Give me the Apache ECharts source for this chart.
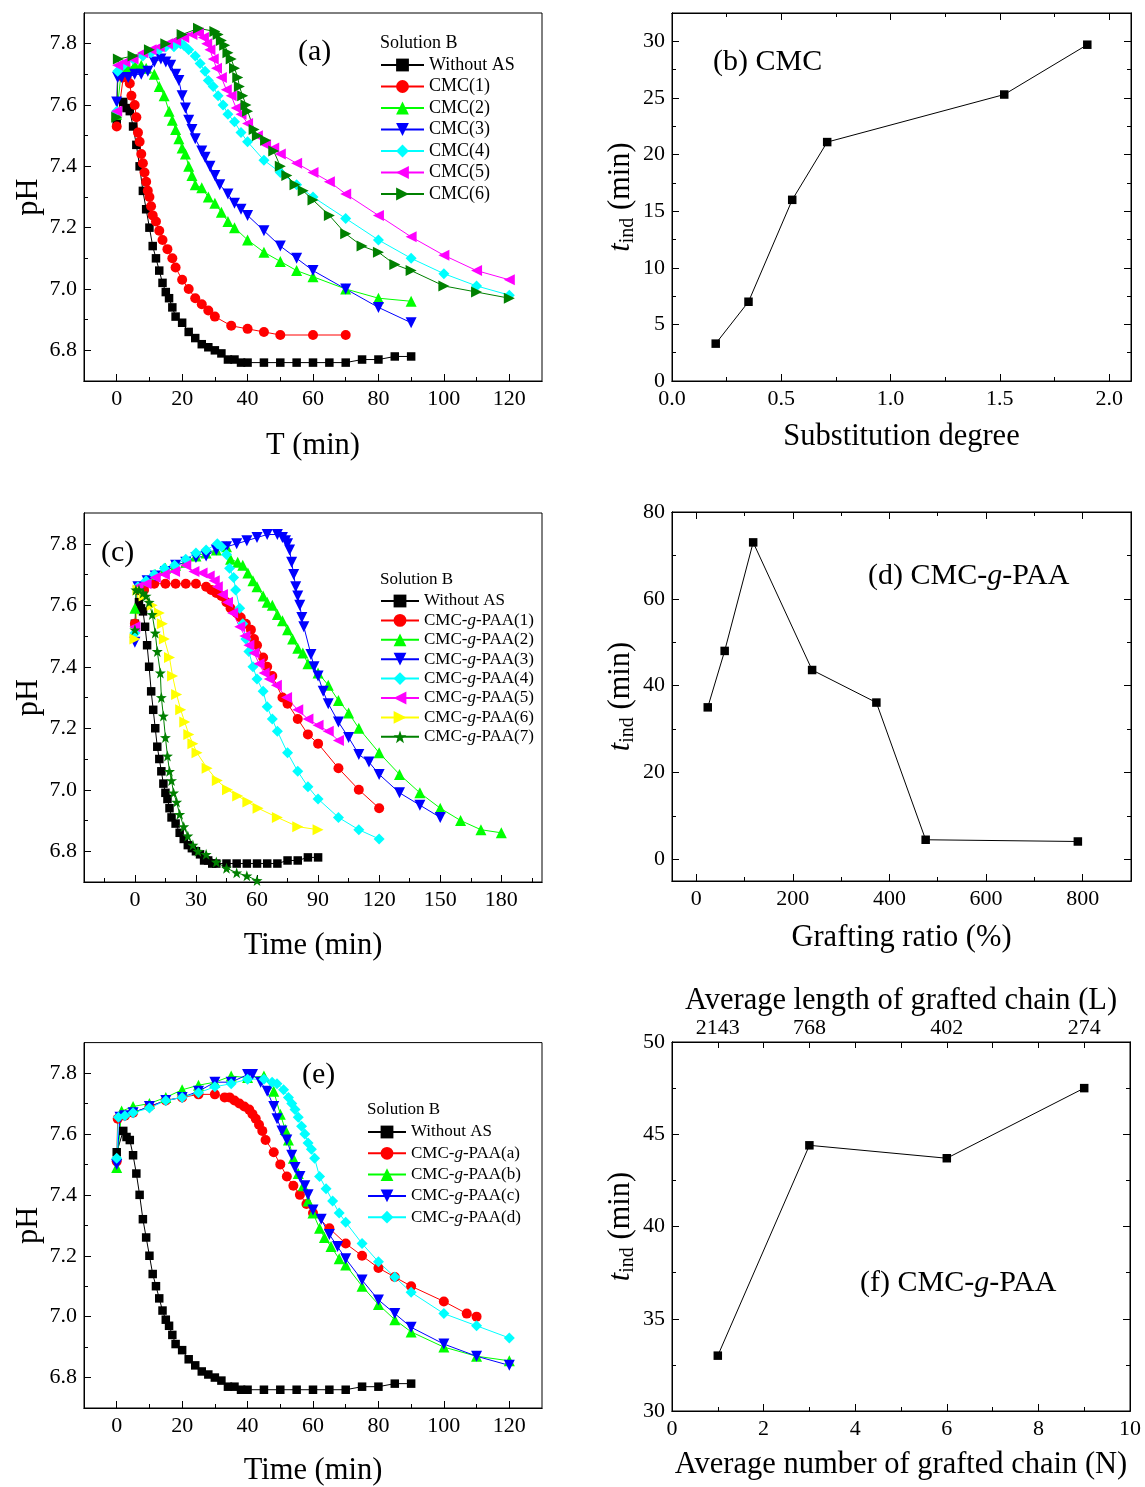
<!DOCTYPE html>
<html><head><meta charset="utf-8">
<script src="https://cdn.jsdelivr.net/npm/echarts@6/dist/echarts.min.js"></script>
<style>html,body{margin:0;padding:0;background:#fff}#c{width:1145px;height:1487px}</style>
</head><body><div id="c"></div>
<script>
// ---------- DATA ----------
// Without AS (same curve in panels a, c, e)
const noAS_t  = [0,2,3,4,5,6,7,8,9,10,11,12,13,14,15,16,17,18,20,22,24,26,28,30,32,34,36,38,40,45,50,55,60,65,70,75,80,85,90];
const noAS_pH = [7.54,7.61,7.59,7.58,7.53,7.47,7.40,7.32,7.26,7.20,7.14,7.10,7.06,7.02,6.99,6.97,6.94,6.91,6.89,6.86,6.84,6.82,6.81,6.80,6.79,6.77,6.77,6.76,6.76,6.76,6.76,6.76,6.76,6.76,6.76,6.77,6.77,6.78,6.78];
// panel (a)
const cmc1_t  = [0,2,3,4,4.5,5.5,6,6.5,7,7.5,8,8.5,9,9.5,10,10.5,11,12,13,14,15.5,17,18,20,22,24,26,28,30,35,40,45,50,60,70];
const cmc1_pH = [7.53,7.69,7.69,7.67,7.63,7.60,7.56,7.51,7.48,7.44,7.41,7.38,7.35,7.32,7.30,7.27,7.24,7.22,7.19,7.16,7.13,7.10,7.07,7.03,7.00,6.97,6.95,6.93,6.91,6.88,6.87,6.86,6.85,6.85,6.85];
const cmc2_t  = [0,1.5,3.5,5.5,7.5,9,11.5,13,14.5,16,17,18,19,20,21,22,23,24,26,28,30,32,34,36,40,45,50,55,60,70,80,90];
const cmc2_pH = [7.57,7.72,7.72,7.73,7.73,7.72,7.70,7.66,7.63,7.58,7.55,7.52,7.49,7.46,7.44,7.40,7.37,7.34,7.33,7.30,7.28,7.25,7.22,7.20,7.16,7.12,7.09,7.06,7.04,7.00,6.97,6.96];
const cmc3_t  = [0,0.3,1.5,3.5,5.5,7.5,9.5,11.5,13.5,15,16.5,18,19,20,21,22,23,24,26,27,28.5,30,31.5,34,36,38,40,45,50,55,60,70,80,90];
const cmc3_pH = [7.61,7.69,7.69,7.69,7.70,7.70,7.71,7.74,7.75,7.74,7.73,7.70,7.68,7.63,7.59,7.55,7.52,7.49,7.45,7.43,7.40,7.37,7.34,7.31,7.28,7.26,7.24,7.19,7.14,7.10,7.06,7.00,6.94,6.89];
const cmc4_t  = [0,0.3,2,5,8,10.5,13,15,17.5,19.5,20.5,22,24,25.5,27,28,29.5,31,32.5,34,36,38,40,45,50,55,60,70,80,90,100,110,120];
const cmc4_pH = [7.58,7.71,7.73,7.75,7.76,7.77,7.78,7.79,7.79,7.80,7.795,7.78,7.76,7.735,7.71,7.68,7.66,7.63,7.60,7.57,7.545,7.51,7.48,7.42,7.38,7.34,7.30,7.23,7.16,7.10,7.05,7.01,6.98];
const cmc5_t  = [0,0.3,2.5,5,8,10.5,13,15.5,18,20.5,23,25,26.5,27.5,28.5,29.5,30.5,32,33.5,35,36.5,38,40,43,45.5,48,50,55,60,65,70,80,90,100,110,120];
const cmc5_pH = [7.58,7.73,7.74,7.75,7.77,7.78,7.79,7.80,7.81,7.82,7.83,7.835,7.82,7.80,7.78,7.75,7.72,7.69,7.65,7.63,7.59,7.57,7.54,7.50,7.47,7.46,7.44,7.41,7.38,7.35,7.31,7.24,7.17,7.11,7.06,7.03];
const cmc6_t  = [0,0.5,5,10,15,20,25,30,31,32,33,34,35,36,37,37.5,38.5,39.5,40,42,43,45.5,48,50,52,54.5,57,60,65,70,75,80,85,90,100,110,120];
const cmc6_pH = [7.56,7.75,7.76,7.78,7.80,7.83,7.85,7.84,7.83,7.81,7.795,7.77,7.75,7.72,7.69,7.66,7.63,7.60,7.58,7.52,7.50,7.485,7.45,7.40,7.37,7.34,7.32,7.29,7.24,7.18,7.14,7.12,7.08,7.06,7.01,6.99,6.97];
// panel (b)
const subDeg = [0.2,0.35,0.55,0.71,1.52,1.9];
const tindB  = [3.3,7.0,16.0,21.1,25.3,29.7];
// panel (c)
const p1_t  = [0,1.5,4.5,9.5,15,20,25,30,35,37.5,40,42.5,45,47,50,52,54.5,57,58.5,60,63,65,67.5,72.5,75,80,85,90,100,110,120];
const p1_pH = [7.54,7.65,7.65,7.67,7.67,7.67,7.67,7.67,7.66,7.65,7.64,7.63,7.61,7.59,7.575,7.56,7.54,7.52,7.49,7.47,7.43,7.40,7.37,7.30,7.28,7.23,7.18,7.15,7.07,7.00,6.94];
const p2_t  = [0,1.5,5.5,10,15,20,25,30,35,40,45,47,50.5,53,55.5,58,60,63,65,67.5,70,72.5,75,77.5,80,82.5,85,90,95,100,105,110,120,130,140,150,160,170,180];
const p2_pH = [7.59,7.66,7.68,7.70,7.72,7.73,7.74,7.76,7.77,7.78,7.79,7.75,7.74,7.73,7.705,7.68,7.66,7.63,7.61,7.60,7.57,7.55,7.52,7.49,7.46,7.445,7.41,7.38,7.34,7.29,7.25,7.20,7.12,7.05,6.99,6.94,6.90,6.87,6.86];
const p3_t  = [0,1.5,6,10,15,20,25,30,35,40,45,50,55,60,65,70,72.5,74,75,76,77,78,79,80,81,82,83,86.5,88,90,92.5,95,100,105,110,115,120,130,140,150];
const p3_pH = [7.48,7.66,7.68,7.695,7.71,7.73,7.74,7.755,7.76,7.78,7.79,7.80,7.81,7.82,7.83,7.83,7.82,7.81,7.80,7.78,7.74,7.70,7.66,7.63,7.60,7.56,7.53,7.44,7.40,7.37,7.32,7.28,7.22,7.17,7.115,7.09,7.05,6.99,6.95,6.91];
const p4_t  = [0,1.5,5.5,9.5,14.5,19.5,25,30,35,40.5,42.5,45,46.5,48.5,49.5,51.5,53,54.5,56,58,60,63,65,67.5,70,75,80,85,90,100,110,120];
const p4_pH = [7.51,7.66,7.68,7.70,7.72,7.73,7.75,7.77,7.78,7.80,7.79,7.765,7.72,7.69,7.65,7.59,7.54,7.49,7.45,7.40,7.36,7.32,7.27,7.23,7.19,7.12,7.06,7.01,6.97,6.91,6.87,6.84];
const p5_t  = [0,1.5,5.5,10,14.5,19.5,25,29,33,36.5,39,40.5,43,45.5,48,51.5,54,56,58.5,61,63.5,66,69.5,74.5,80,85,90,95,100];
const p5_pH = [7.53,7.66,7.67,7.69,7.70,7.71,7.73,7.71,7.705,7.695,7.68,7.66,7.635,7.61,7.575,7.53,7.50,7.47,7.445,7.41,7.38,7.36,7.34,7.30,7.26,7.23,7.21,7.19,7.16];
const p6_t  = [0,1.5,4.5,8.5,12,13.5,14.5,17,18.5,20.5,22.5,24.5,26.5,28.5,30.5,35.5,40.5,45.5,50.5,55.5,60.5,70,80,90];
const p6_pH = [7.49,7.65,7.63,7.60,7.575,7.54,7.49,7.43,7.37,7.31,7.26,7.22,7.18,7.15,7.12,7.07,7.03,7.00,6.98,6.96,6.94,6.91,6.88,6.87];
const p7_t  = [0,0.5,2,4,5.5,7,8.5,10,11,12.5,13,14,15,16,17,18,19,20.5,22,24,26,28.5,31,35,40,45,50,55,60];
const p7_pH = [7.52,7.65,7.65,7.64,7.63,7.61,7.57,7.51,7.45,7.38,7.30,7.24,7.17,7.11,7.06,7.03,6.99,6.96,6.92,6.88,6.85,6.82,6.80,6.79,6.765,6.745,6.73,6.72,6.705];
// panel (d)
const graftRatio = [24,59,118,240,373,475,790];
const tindD      = [35,48,73,43.6,36.1,4.5,4.1];
// panel (e)
const ea_t  = [0,0.3,2.5,5,10,15,20,25,30,33,34.5,36,37.5,39,40.5,41.5,42.5,43.5,44.5,45.5,48,50,52,54,56,58,60,65,70,75,80,85,90,100,107,110];
const ea_pH = [7.51,7.65,7.66,7.67,7.69,7.71,7.72,7.73,7.73,7.72,7.72,7.71,7.70,7.69,7.68,7.665,7.65,7.63,7.61,7.58,7.54,7.50,7.46,7.43,7.40,7.37,7.34,7.29,7.24,7.20,7.16,7.13,7.10,7.05,7.01,7.00];
const eb_t  = [0,1.5,5,10,15,20,25,30,35,40,45,48,50,51.5,52.5,54,55.5,57,58.5,60,62,63.5,65.5,68,70,75,80,85,90,100,110,120];
const eb_pH = [7.49,7.675,7.69,7.70,7.72,7.745,7.76,7.77,7.79,7.785,7.79,7.74,7.665,7.615,7.58,7.52,7.47,7.43,7.38,7.34,7.29,7.26,7.23,7.19,7.17,7.10,7.04,6.99,6.95,6.90,6.87,6.855];
const ec_t  = [0,1,2.5,5,10,15,20,25,30,35,40,41.5,44,46,48,49,50.5,52,53.5,54.5,56,57.5,58.5,60,62.5,65,67.5,70,75,80,85,90,100,110,120];
const ec_pH = [7.50,7.655,7.66,7.67,7.69,7.71,7.72,7.74,7.77,7.77,7.795,7.795,7.77,7.74,7.69,7.65,7.61,7.58,7.53,7.49,7.46,7.43,7.40,7.35,7.32,7.27,7.23,7.19,7.12,7.055,7.01,6.965,6.91,6.87,6.84];
const ed_t  = [0,0.5,2.5,5,10,15,20,25,30,35,40,45,47.5,49,51,52.5,53.5,54.5,55.5,56.5,57.5,58.5,59.5,60.5,62,64,66,68,70,75,80,85,90,100,110,120];
const ed_pH = [7.52,7.655,7.66,7.67,7.685,7.71,7.72,7.735,7.755,7.765,7.78,7.78,7.77,7.765,7.745,7.72,7.70,7.68,7.655,7.625,7.60,7.57,7.55,7.52,7.46,7.42,7.38,7.34,7.31,7.24,7.18,7.13,7.08,7.01,6.97,6.93];
// panel (f)
const graftN = [1,3,6,9];
const tindF  = [33.0,44.4,43.7,47.5];
const fTopPos    = [1,3,6,9];
const fTopLabels = ['2143','768','402','274'];

// ---------- TICKS ----------
const pHMajor = [6.8,7.0,7.2,7.4,7.6,7.8];
const pHMinor = [6.9,7.1,7.3,7.5,7.7];
const tAMajor = [0,20,40,60,80,100,120];
const tAMinor = [10,30,50,70,90,110];
const tCMajor = [0,30,60,90,120,150,180];
const tCMinor = [-15,15,45,75,105,135,165,195];
const bXMajor = [0,0.5,1.0,1.5,2.0];
const bXMinor = [0.25,0.75,1.25,1.75];
const bYMajor = [0,5,10,15,20,25,30];
const bYMinor = [2.5,7.5,12.5,17.5,22.5,27.5];
const dXMajor = [0,200,400,600,800];
const dXMinor = [100,300,500,700];
const dYMajor = [0,20,40,60,80];
const dYMinor = [10,30,50,70];
const fXMajor = [0,2,4,6,8,10];
const fXMinor = [1,3,5,7,9];
const fTopTicks = [1,2,3,4,5,6,7,8,9];
const fYMajor = [30,35,40,45,50];
const fYMinor = [32.5,37.5,42.5,47.5];

// ---------- BUILD ----------
const F = "'Liberation Serif','Times New Roman',serif";
const TF = 30.5;   // axis title font size
const nameStyle = {fontFamily:F, fontSize:TF, color:'#000'};
const tindName = '{it|t}{sub|ind}{n| (min)}';
const tindStyle = {fontFamily:F, fontSize:TF, color:'#000', rich:{
  it:{fontFamily:F, fontSize:TF, fontStyle:'italic', color:'#000'},
  sub:{fontFamily:F, fontSize:20, color:'#000', padding:[14,0,0,0]},
  n:{fontFamily:F, fontSize:TF, color:'#000'}}};

const grids = [
  {left:84, top:13, width:458, height:368},
  {left:672, top:13, width:459, height:368},
  {left:84, top:513, width:458, height:369},
  {left:672, top:512, width:459, height:369},
  {left:84, top:1042.6, width:458, height:368.4},
  {left:672, top:1042, width:458, height:369}
].map(g => Object.assign({show:true, borderColor:'#000', borderWidth:1, backgroundColor:'transparent'}, g));

const xAxes = [], yAxes = [];
function ax(list, gi, pos, min, max, ticks, len, label, extra) {
  const a = {
    type:'value', gridIndex:gi, position:pos, min:min, max:max,
    axisLine:{show:true, onZero:false, lineStyle:{color:'#000', width:1}},
    axisTick:{show:true, inside:true, length:len, customValues:ticks, lineStyle:{color:'#000', width:1}},
    axisLabel: label ? Object.assign({show:true, fontFamily:F, fontSize:22, color:'#000', margin:7}, label) : {show:false},
    splitLine:{show:false}, minorTick:{show:false}, silent:true
  };
  Object.assign(a, extra || {});
  list.push(a);
  return list.length - 1;
}
const f1 = v => v.toFixed(1);
const idx = {};
// (a)
idx.ax = ax(xAxes,0,'bottom',-10,130,tAMajor,7,{customValues:tAMajor},{name:'T (min)',nameLocation:'middle',nameGap:49,nameTextStyle:nameStyle});
ax(xAxes,0,'bottom',-10,130,tAMinor,4,null);
idx.ay = ax(yAxes,0,'left',6.7,7.9,pHMajor,7,{customValues:pHMajor,formatter:f1},{name:'pH',nameLocation:'middle',nameGap:40,nameTextStyle:nameStyle});
ax(yAxes,0,'left',6.7,7.9,pHMinor,4,null);
// (b)
idx.bx = ax(xAxes,1,'bottom',0,2.1,bXMajor,7,{customValues:bXMajor,formatter:f1},{name:'Substitution degree',nameLocation:'middle',nameGap:40,nameTextStyle:nameStyle});
ax(xAxes,1,'bottom',0,2.1,bXMinor,4,null);
ax(xAxes,1,'top',0,2.1,bXMajor,7,null);
ax(xAxes,1,'top',0,2.1,bXMinor,4,null);
idx.by = ax(yAxes,1,'left',0,32.5,bYMajor,7,{customValues:bYMajor},{name:tindName,nameLocation:'middle',nameGap:34,nameTextStyle:tindStyle});
ax(yAxes,1,'left',0,32.5,bYMinor,4,null);
ax(yAxes,1,'right',0,32.5,bYMajor,7,null);
ax(yAxes,1,'right',0,32.5,bYMinor,4,null);
// (c)
idx.cx = ax(xAxes,2,'bottom',-25,200,tCMajor,7,{customValues:tCMajor},{name:'Time (min)',nameLocation:'middle',nameGap:48,nameTextStyle:nameStyle});
ax(xAxes,2,'bottom',-25,200,tCMinor,4,null);
idx.cy = ax(yAxes,2,'left',6.7,7.9,pHMajor,7,{customValues:pHMajor,formatter:f1},{name:'pH',nameLocation:'middle',nameGap:40,nameTextStyle:nameStyle});
ax(yAxes,2,'left',6.7,7.9,pHMinor,4,null);
// (d)
idx.dx = ax(xAxes,3,'bottom',-50,900,dXMajor,7,{customValues:dXMajor},{name:'Grafting ratio (%)',nameLocation:'middle',nameGap:41,nameTextStyle:nameStyle});
ax(xAxes,3,'bottom',-50,900,dXMinor,4,null);
ax(xAxes,3,'top',-50,900,dXMajor,7,null);
ax(xAxes,3,'top',-50,900,dXMinor,4,null);
idx.dy = ax(yAxes,3,'left',-5,80,dYMajor,7,{customValues:dYMajor},{name:tindName,nameLocation:'middle',nameGap:34,nameTextStyle:tindStyle});
ax(yAxes,3,'left',-5,80,dYMinor,4,null);
ax(yAxes,3,'right',-5,80,dYMajor,7,null);
ax(yAxes,3,'right',-5,80,dYMinor,4,null);
// (e)
idx.ex = ax(xAxes,4,'bottom',-10,130,tAMajor,7,{customValues:tAMajor},{name:'Time (min)',nameLocation:'middle',nameGap:47,nameTextStyle:nameStyle});
ax(xAxes,4,'bottom',-10,130,tAMinor,4,null);
idx.ey = ax(yAxes,4,'left',6.7,7.9,pHMajor,7,{customValues:pHMajor,formatter:f1},{name:'pH',nameLocation:'middle',nameGap:40,nameTextStyle:nameStyle});
ax(yAxes,4,'left',6.7,7.9,pHMinor,4,null);
// (f)
idx.fx = ax(xAxes,5,'bottom',0,10,fXMajor,7,{customValues:fXMajor},{name:'Average number of grafted chain (N)',nameLocation:'middle',nameGap:38,nameTextStyle:nameStyle});
ax(xAxes,5,'bottom',0,10,fXMinor,4,null);
ax(xAxes,5,'top',0,10,fTopTicks,6,{customValues:fTopPos,margin:3,fontSize:22,formatter:v=>fTopLabels[fTopPos.indexOf(v)]},{name:'Average length of grafted chain (L)',nameLocation:'middle',nameGap:26,nameTextStyle:nameStyle});
idx.fy = ax(yAxes,5,'left',30,50,fYMajor,7,{customValues:fYMajor},{name:tindName,nameLocation:'middle',nameGap:34,nameTextStyle:tindStyle});
ax(yAxes,5,'left',30,50,fYMinor,4,null);
ax(yAxes,5,'right',30,50,fYMajor,7,null);
ax(yAxes,5,'right',30,50,fYMinor,4,null);

const STAR = 'path://M0,-10L2.35,-3.24L9.51,-3.09L3.8,1.24L5.88,8.09L0,4L-5.88,8.09L-3.8,1.24L-9.51,-3.09L-2.35,-3.24Z';
const SYM = {
  sq:{symbol:'rect', symbolSize:8.5, symbolRotate:0},
  ci:{symbol:'circle', symbolSize:10, symbolRotate:0},
  up:{symbol:'triangle', symbolSize:11, symbolRotate:0},
  dn:{symbol:'triangle', symbolSize:11, symbolRotate:180},
  di:{symbol:'diamond', symbolSize:11, symbolRotate:0},
  lf:{symbol:'triangle', symbolSize:11, symbolRotate:90},
  rt:{symbol:'triangle', symbolSize:11, symbolRotate:-90},
  st:{symbol:STAR, symbolSize:11, symbolRotate:0}
};
const zip = (a,b) => a.map((v,i) => [v, b[i]]);
const series = [];
function S(name, xs, ys, color, sym, xi, yi) {
  series.push(Object.assign({
    type:'line', name:name, data:zip(xs,ys), xAxisIndex:xi, yAxisIndex:yi,
    showAllSymbol:true, animation:false, silent:true,
    lineStyle:{color:color, width:1}, itemStyle:{color:color, borderWidth:0},
    emphasis:{disabled:true}
  }, SYM[sym]));
}
// (a)
S('Without AS', noAS_t, noAS_pH, '#000000','sq', idx.ax, idx.ay);
S('CMC(1)', cmc1_t, cmc1_pH, '#ff0000','ci', idx.ax, idx.ay);
S('CMC(2)', cmc2_t, cmc2_pH, '#00ff00','up', idx.ax, idx.ay);
S('CMC(3)', cmc3_t, cmc3_pH, '#0000ff','dn', idx.ax, idx.ay);
S('CMC(4)', cmc4_t, cmc4_pH, '#00ffff','di', idx.ax, idx.ay);
S('CMC(5)', cmc5_t, cmc5_pH, '#ff00ff','lf', idx.ax, idx.ay);
S('CMC(6)', cmc6_t, cmc6_pH, '#008000','rt', idx.ax, idx.ay);
// (b)
S('b', subDeg, tindB, '#000000','sq', idx.bx, idx.by);
// (c)
S('Without AS', noAS_t, noAS_pH, '#000000','sq', idx.cx, idx.cy);
S('CMC-g-PAA(1)', p1_t, p1_pH, '#ff0000','ci', idx.cx, idx.cy);
S('CMC-g-PAA(2)', p2_t, p2_pH, '#00ff00','up', idx.cx, idx.cy);
S('CMC-g-PAA(3)', p3_t, p3_pH, '#0000ff','dn', idx.cx, idx.cy);
S('CMC-g-PAA(4)', p4_t, p4_pH, '#00ffff','di', idx.cx, idx.cy);
S('CMC-g-PAA(5)', p5_t, p5_pH, '#ff00ff','lf', idx.cx, idx.cy);
S('CMC-g-PAA(6)', p6_t, p6_pH, '#ffff00','rt', idx.cx, idx.cy);
S('CMC-g-PAA(7)', p7_t, p7_pH, '#008000','st', idx.cx, idx.cy);
// (d)
S('d', graftRatio, tindD, '#000000','sq', idx.dx, idx.dy);
// (e)
S('Without AS', noAS_t, noAS_pH, '#000000','sq', idx.ex, idx.ey);
S('CMC-g-PAA(a)', ea_t, ea_pH, '#ff0000','ci', idx.ex, idx.ey);
S('CMC-g-PAA(b)', eb_t, eb_pH, '#00ff00','up', idx.ex, idx.ey);
S('CMC-g-PAA(c)', ec_t, ec_pH, '#0000ff','dn', idx.ex, idx.ey);
S('CMC-g-PAA(d)', ed_t, ed_pH, '#00ffff','di', idx.ex, idx.ey);
// (f)
S('f', graftN, tindF, '#000000','sq', idx.fx, idx.fy);

const gfmt = n => n.replace('-g-', '-{g|g}-');
function legend(data, left, top, fs, gap, w) {
  return {orient:'vertical', left:left, top:top, padding:0, itemGap:gap, itemWidth:w, itemHeight:16,
    selectedMode:false, data:data, formatter:gfmt,
    textStyle:{fontFamily:F, fontSize:fs, color:'#000', lineHeight:fs,
      rich:{g:{fontFamily:F, fontSize:fs, fontStyle:'italic', color:'#000'}}}};
}
const ts = (fs) => ({fontFamily:F, fontSize:fs, fontWeight:'normal', color:'#000',
  rich:{g:{fontFamily:F, fontSize:fs, fontStyle:'italic', color:'#000'}}});
const titles = [
  {text:'(a)', left:298, top:37, padding:0, textStyle:ts(30)},
  {text:'(b) CMC', left:713, top:47, padding:0, textStyle:ts(30)},
  {text:'(c)', left:101, top:538, padding:0, textStyle:ts(30)},
  {text:'(d) CMC-{g|g}-PAA', left:868, top:561, padding:0, textStyle:ts(30)},
  {text:'(e)', left:302, top:1060, padding:0, textStyle:ts(30)},
  {text:'(f) CMC-{g|g}-PAA', left:860, top:1268, padding:0, textStyle:ts(30)},
  {text:'Solution B', left:380, top:34, padding:0, textStyle:ts(18)},
  {text:'Solution B', left:380, top:571.5, padding:0, textStyle:ts(17)},
  {text:'Solution B', left:367, top:1101.5, padding:0, textStyle:ts(17)}
];

const chart = echarts.init(document.getElementById('c'), null, {renderer:'canvas'});
chart.setOption({
  animation:false,
  backgroundColor:'#ffffff',
  title:titles,
  grid:grids,
  xAxis:xAxes,
  yAxis:yAxes,
  legend:[
    legend(['Without AS','CMC(1)','CMC(2)','CMC(3)','CMC(4)','CMC(5)','CMC(6)'], 380, 56, 18, 3.5, 43),
    legend(['Without AS','CMC-g-PAA(1)','CMC-g-PAA(2)','CMC-g-PAA(3)','CMC-g-PAA(4)','CMC-g-PAA(5)','CMC-g-PAA(6)','CMC-g-PAA(7)'], 380, 592.5, 17, 2.4, 38),
    legend(['Without AS','CMC-g-PAA(a)','CMC-g-PAA(b)','CMC-g-PAA(c)','CMC-g-PAA(d)'], 367, 1123.5, 17, 4.3, 38)
  ],
  series:series
});
</script></body></html>
